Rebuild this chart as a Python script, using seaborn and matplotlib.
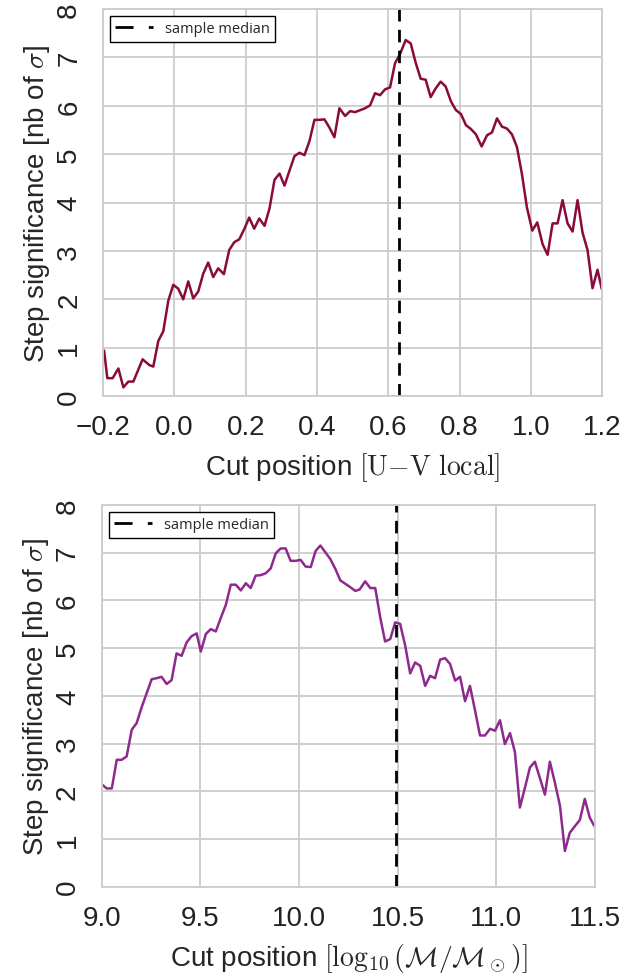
import numpy as np
import pandas as pd
import matplotlib
matplotlib.use('Agg')
import matplotlib.pyplot as plt
import seaborn as sns

# cut positions and step significance, top panel (U-V local colour)
uv_cut = [-0.197, -0.188, -0.173, -0.157, -0.143, -0.129, -0.115, -0.089, -0.070, -0.059,
          -0.045, -0.031, -0.017, -0.003, 0.011, 0.025, 0.039, 0.053, 0.067, 0.081,
          0.095, 0.109, 0.123, 0.139, 0.154, 0.168, 0.182, 0.196, 0.210, 0.224,
          0.238, 0.253, 0.267, 0.281, 0.295, 0.309, 0.323, 0.337, 0.351, 0.365,
          0.379, 0.393, 0.407, 0.421, 0.435, 0.449, 0.463, 0.479, 0.493, 0.507,
          0.521, 0.535, 0.549, 0.563, 0.577, 0.591, 0.605, 0.619, 0.633, 0.649,
          0.663, 0.677, 0.691, 0.705, 0.719, 0.733, 0.747, 0.761, 0.776, 0.790,
          0.804, 0.818, 0.832, 0.846, 0.862, 0.877, 0.891, 0.905, 0.919, 0.933,
          0.947, 0.961, 0.975, 0.989, 1.004, 1.018, 1.033, 1.047, 1.061, 1.075,
          1.089, 1.103, 1.117, 1.131, 1.145, 1.159, 1.173, 1.187, 1.199]
uv_sig = [0.94, 0.37, 0.37, 0.57, 0.18, 0.30, 0.30, 0.76, 0.64, 0.61,
          1.14, 1.34, 1.97, 2.30, 2.22, 2.00, 2.37, 2.02, 2.16, 2.53,
          2.76, 2.46, 2.64, 2.52, 3.02, 3.18, 3.24, 3.45, 3.69, 3.46,
          3.67, 3.52, 3.88, 4.47, 4.60, 4.35, 4.66, 4.96, 5.03, 4.98,
          5.27, 5.71, 5.71, 5.72, 5.55, 5.35, 5.95, 5.79, 5.89, 5.87,
          5.91, 5.95, 6.01, 6.26, 6.22, 6.34, 6.38, 6.88, 7.07, 7.36,
          7.29, 6.89, 6.56, 6.54, 6.18, 6.36, 6.50, 6.40, 6.09, 5.91,
          5.83, 5.60, 5.52, 5.41, 5.16, 5.39, 5.45, 5.74, 5.57, 5.53,
          5.41, 5.15, 4.59, 3.90, 3.42, 3.59, 3.14, 2.92, 3.57, 3.57,
          4.05, 3.57, 3.40, 4.05, 3.38, 3.02, 2.23, 2.61, 2.21]
uv_median = 0.63

# bottom panel (stellar mass)
mass_cut = [9.005, 9.025, 9.051, 9.076, 9.101, 9.126, 9.152, 9.177, 9.202, 9.228,
            9.253, 9.278, 9.303, 9.329, 9.354, 9.379, 9.405, 9.430, 9.455, 9.481,
            9.502, 9.528, 9.553, 9.578, 9.603, 9.629, 9.654, 9.679, 9.705, 9.730,
            9.755, 9.780, 9.806, 9.831, 9.856, 9.882, 9.907, 9.932, 9.957, 9.983,
            10.008, 10.033, 10.059, 10.084, 10.108, 10.133, 10.158, 10.184, 10.209, 10.234,
            10.259, 10.285, 10.307, 10.335, 10.361, 10.386, 10.411, 10.436, 10.462, 10.487,
            10.512, 10.538, 10.563, 10.588, 10.614, 10.639, 10.664, 10.689, 10.715, 10.740,
            10.765, 10.791, 10.816, 10.841, 10.866, 10.892, 10.917, 10.942, 10.968, 10.993,
            11.018, 11.043, 11.069, 11.094, 11.119, 11.145, 11.170, 11.195, 11.221, 11.246,
            11.271, 11.296, 11.322, 11.347, 11.372, 11.398, 11.423, 11.448, 11.473, 11.495]
mass_sig = [2.13, 2.06, 2.06, 2.66, 2.66, 2.73, 3.29, 3.43, 3.76, 4.06,
            4.35, 4.37, 4.40, 4.25, 4.33, 4.89, 4.84, 5.12, 5.25, 5.31,
            4.93, 5.30, 5.40, 5.35, 5.63, 5.91, 6.33, 6.33, 6.21, 6.36,
            6.26, 6.52, 6.53, 6.57, 6.67, 6.99, 7.09, 7.09, 6.83, 6.83,
            6.85, 6.71, 6.70, 7.04, 7.15, 7.01, 6.87, 6.66, 6.42, 6.35,
            6.28, 6.20, 6.23, 6.40, 6.26, 6.26, 5.65, 5.14, 5.19, 5.54,
            5.51, 5.05, 4.47, 4.70, 4.63, 4.21, 4.42, 4.37, 4.76, 4.79,
            4.67, 4.32, 4.40, 3.89, 4.21, 3.69, 3.17, 3.17, 3.31, 3.27,
            3.49, 2.99, 3.22, 2.82, 1.66, 2.08, 2.50, 2.62, 2.27, 1.93,
            2.62, 2.19, 1.70, 0.75, 1.13, 1.27, 1.40, 1.84, 1.45, 1.28]
mass_median = 10.49

sns.set_style('whitegrid', {'grid.color': '.8', 'axes.edgecolor': '.8'})
plt.rcParams['font.family'] = ['Liberation Sans', 'DejaVu Sans']
plt.rcParams['mathtext.fontset'] = 'cm'
plt.rcParams['grid.linewidth'] = 1.3
plt.rcParams['axes.linewidth'] = 1.3

fig = plt.figure(figsize=(6.44, 9.78), dpi=100)
ax1 = fig.add_axes([0.160, 0.594, 0.775, 0.3957])
ax2 = fig.add_axes([0.158, 0.0923, 0.766, 0.3903])


def panel(ax, x, y, color, med, xlim, xticks, xlabel):
    df = pd.DataFrame({'cut': x, 'sig': y})
    sns.lineplot(data=df, x='cut', y='sig', ax=ax, color=color, lw=1.8, sort=False)
    ax.axvline(med, color='k', lw=2, linestyle=(0, (4.5, 3)), label='sample median')
    ax.set_xlim(xlim)
    ax.set_ylim(0, 8)
    ax.set_xticks(xticks)
    ax.set_yticks(range(9))
    ax.tick_params(axis='both', labelsize=20, length=0, colors='#222222')
    ax.tick_params(axis='x', pad=13)
    ax.tick_params(axis='y', pad=15)
    plt.setp(ax.get_yticklabels(), rotation=90, va='center')
    ax.set_xlabel(xlabel, fontsize=20, labelpad=7)
    ax.set_ylabel(r'Step significance [nb of $\sigma$]', fontsize=20, labelpad=3)
    leg = ax.legend(loc='upper left', fancybox=False, framealpha=1, edgecolor='k',
                    prop={'family': 'Open Sans', 'size': 10.5}, handlelength=2.6,
                    borderaxespad=0.5, borderpad=0.35)
    leg.get_frame().set_linewidth(1.0)
    leg.legend_handles[0].set_linestyle((0, (6.5, 5.5)))


panel(ax1, uv_cut, uv_sig, '#8b0a3c', uv_median, (-0.2, 1.2),
      [-0.2, 0.0, 0.2, 0.4, 0.6, 0.8, 1.0, 1.2],
      r'Cut position $[\mathrm{U}{-}\mathrm{V}\ \mathrm{local}]$')
panel(ax2, mass_cut, mass_sig, '#8e2a8e', mass_median, (9.0, 11.5),
      [9.0, 9.5, 10.0, 10.5, 11.0, 11.5],
      r'Cut position $[\log_{10}(\mathcal{M}/\mathcal{M}_\odot)]$')

plt.savefig('out.png', dpi=100, facecolor='w')
